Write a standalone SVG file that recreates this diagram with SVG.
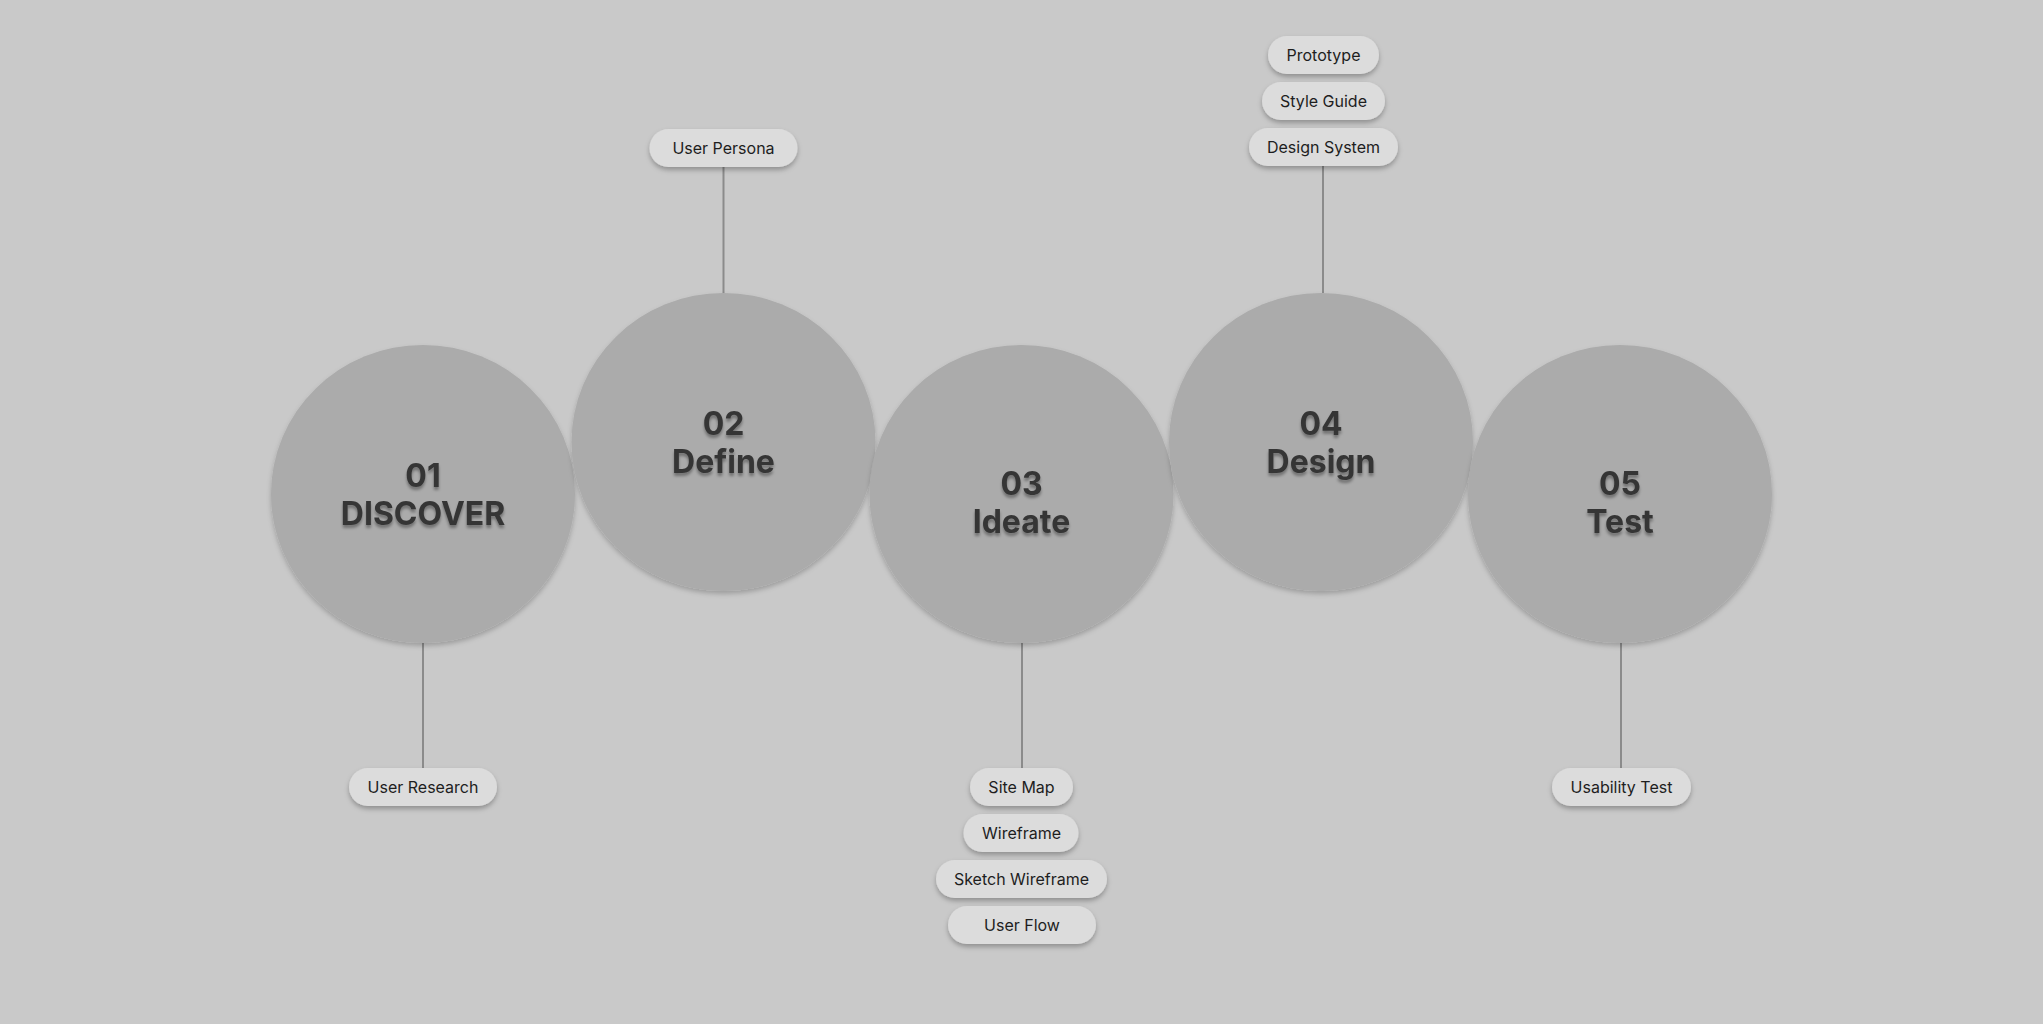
<svg xmlns="http://www.w3.org/2000/svg" width="2043" height="1024" viewBox="0 0 2043 1024">
<defs>
<filter id="cshadow" x="-10%" y="-10%" width="120%" height="125%">
<feDropShadow dx="0" dy="3" stdDeviation="2.5" flood-color="#000" flood-opacity="0.22"/>
</filter>
<filter id="tshadow" x="-10%" y="-20%" width="120%" height="150%">
<feDropShadow dx="0" dy="3" stdDeviation="1.6" flood-color="#000" flood-opacity="0.35"/>
</filter>
<filter id="pshadow" x="-10%" y="-20%" width="120%" height="160%">
<feDropShadow dx="0" dy="3" stdDeviation="2.5" flood-color="#000" flood-opacity="0.28"/>
</filter>
</defs>
<style>
.circle{fill:#ababab;filter:url(#cshadow)}
.title{font-family:Inter,"Liberation Sans",sans-serif;font-weight:700;font-size:32px;fill:#363636;text-anchor:middle;filter:url(#tshadow)}
.pill rect{fill:#dcdcdc;filter:url(#pshadow)}
.pill text{font-family:Inter,"Liberation Sans",sans-serif;font-size:16px;fill:#1e1e1e;text-anchor:middle}
.conn line{stroke:#8b8b8b;stroke-width:2}
</style>
<rect width="2043" height="1024" fill="#c9c9c9"/>
<g id="connectors" class="conn">
<line x1="423" y1="643" x2="423" y2="768"/>
<line x1="723.5" y1="167" x2="723.5" y2="293"/>
<line x1="1022" y1="643" x2="1022" y2="768"/>
<line x1="1323" y1="166" x2="1323" y2="293"/>
<line x1="1621" y1="643" x2="1621" y2="768"/>
</g>
<g id="step1"><ellipse class="circle" cx="423" cy="494" rx="152" ry="149"/><text class="title" x="423" y="487">01</text><text class="title" x="423" y="525">DISCOVER</text></g>
<g id="step2"><ellipse class="circle" cx="723.5" cy="442" rx="152" ry="149"/><text class="title" x="723.5" y="435">02</text><text class="title" x="723.5" y="473">Define</text></g>
<g id="step3"><ellipse class="circle" cx="1021.5" cy="494" rx="152" ry="149"/><text class="title" x="1021.5" y="495">03</text><text class="title" x="1021.5" y="533">Ideate</text></g>
<g id="step4"><ellipse class="circle" cx="1321" cy="442" rx="152" ry="149"/><text class="title" x="1321" y="435">04</text><text class="title" x="1321" y="473">Design</text></g>
<g id="step5"><ellipse class="circle" cx="1620" cy="494" rx="152" ry="149"/><text class="title" x="1620" y="495">05</text><text class="title" x="1620" y="533">Test</text></g>
<g id="pill-user-research" class="pill"><rect x="349" y="768" width="148" height="38" rx="19"/><text x="423" y="793">User Research</text></g>
<g id="pill-user-persona" class="pill"><rect x="649.5" y="129" width="148" height="38" rx="19"/><text x="723.5" y="154">User Persona</text></g>
<g id="pill-site-map" class="pill"><rect x="970" y="768" width="103" height="38" rx="19"/><text x="1021.5" y="793">Site Map</text></g>
<g id="pill-wireframe" class="pill"><rect x="963.5" y="814" width="115" height="38" rx="19"/><text x="1021.5" y="839">Wireframe</text></g>
<g id="pill-sketch-wireframe" class="pill"><rect x="936" y="860" width="171" height="38" rx="19"/><text x="1021.5" y="885">Sketch Wireframe</text></g>
<g id="pill-user-flow" class="pill"><rect x="948" y="906" width="148" height="38" rx="19"/><text x="1022" y="931">User Flow</text></g>
<g id="pill-prototype" class="pill"><rect x="1268" y="36" width="111" height="38" rx="19"/><text x="1323.5" y="61">Prototype</text></g>
<g id="pill-style-guide" class="pill"><rect x="1262" y="82" width="123" height="38" rx="19"/><text x="1323.5" y="107">Style Guide</text></g>
<g id="pill-design-system" class="pill"><rect x="1249" y="128" width="149" height="38" rx="19"/><text x="1323.5" y="153">Design System</text></g>
<g id="pill-usability-test" class="pill"><rect x="1552" y="768" width="139" height="38" rx="19"/><text x="1621.5" y="793">Usability Test</text></g>
</svg>
